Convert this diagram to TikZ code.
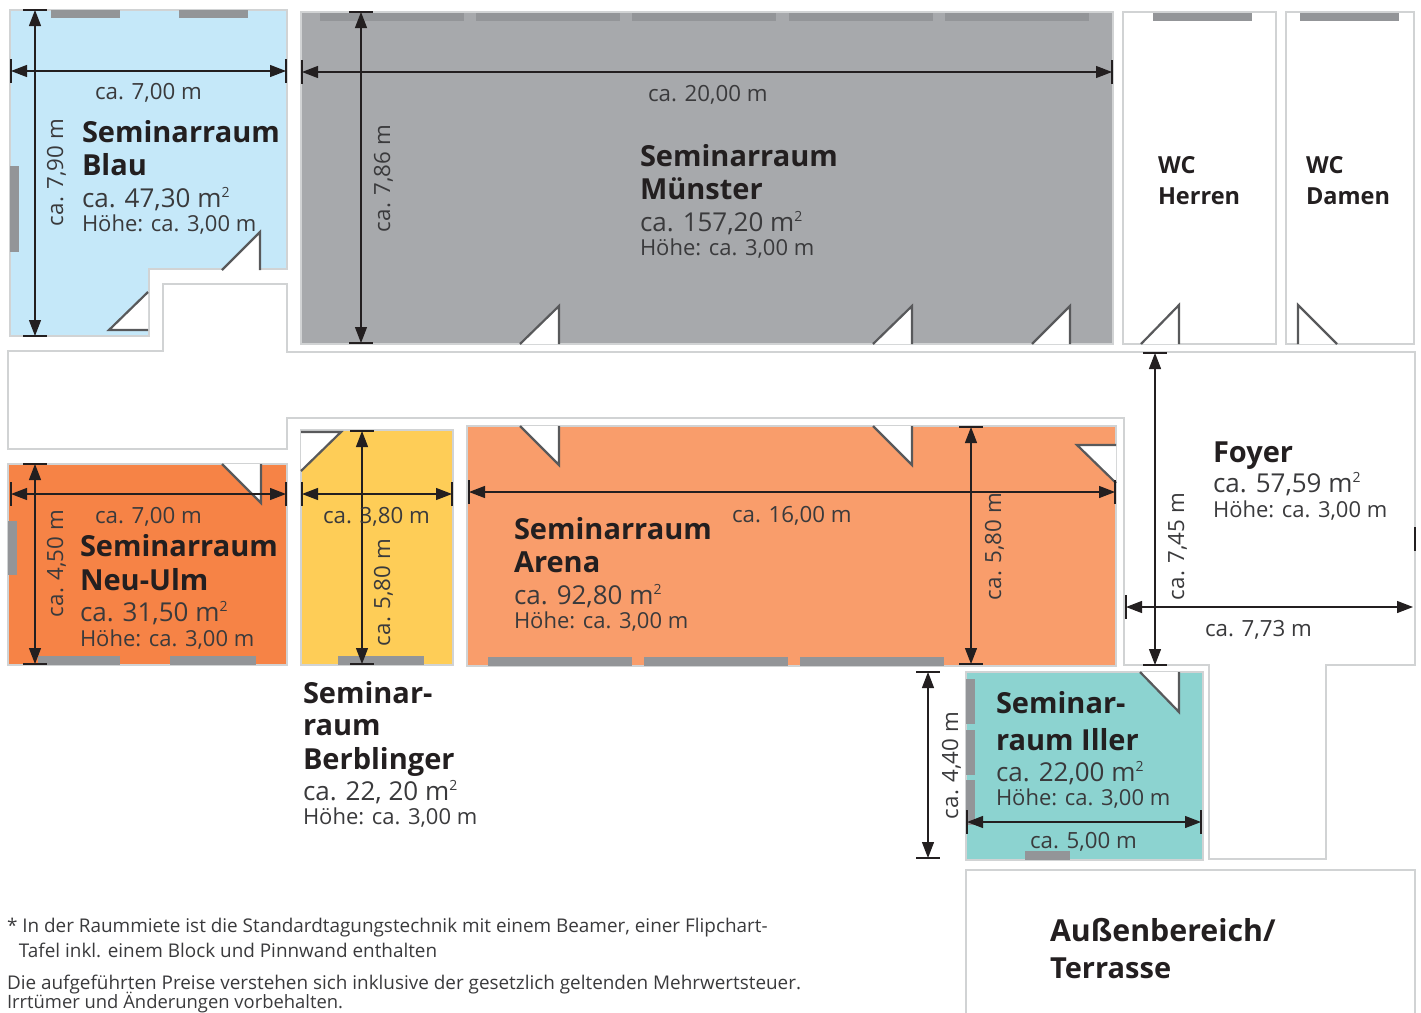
\documentclass[tikz,border=0pt]{standalone}
\usepackage{fontspec}
\setmainfont{Open Sans}
\usetikzlibrary{arrows.meta}
\definecolor{wallc}{HTML}{D1D3D4}
\definecolor{winc}{HTML}{939598}
\definecolor{doorc}{HTML}{58595B}
\definecolor{inkc}{HTML}{231F20}
\definecolor{txtc}{HTML}{3A3A3C}
\definecolor{blauc}{HTML}{C5E8F9}
\definecolor{muenc}{HTML}{A7A9AC}
\definecolor{neuc}{HTML}{F68346}
\definecolor{berbc}{HTML}{FECD57}
\definecolor{arenac}{HTML}{F99D6B}
\definecolor{illerc}{HTML}{8CD3D0}
\tikzset{
  wall/.style={draw=wallc,line width=2.6pt,line join=miter},
  windowbar/.style={fill=winc,draw=none},
  doorline/.style={draw=doorc,line width=2.2pt,line join=miter},
  dimline/.style={draw=inkc,line width=1.2pt,{Triangle[length=16pt,width=12pt]}-{Triangle[length=16pt,width=12pt]}},
  dimtick/.style={draw=inkc,line width=1.2pt},
  txt/.style={inner sep=0pt,outer sep=0pt,anchor=base west,text=txtc},
  ttl/.style={txt,text=inkc,font=\fontsize{29}{30}\selectfont\bfseries},
  wcttl/.style={txt,text=inkc,font=\fontsize{23.5}{25}\selectfont\bfseries},
  area/.style={txt,font=\fontsize{26}{26}\selectfont},
  hoehe/.style={txt,font=\fontsize{22}{22}\selectfont},
  dimtxt/.style={txt,font=\fontsize{22.3}{22}\selectfont},
  note/.style={txt,font=\fontsize{18.9}{19}\selectfont},
}
\newcommand{\sqm}{\raisebox{10pt}{\fontsize{14}{14}\selectfont 2}}
\newcommand{\winbar}[4]{\fill[windowbar] (#1,#2) rectangle (#3,#4);}
% hinge end, tip, third corner: hypotenuse (a)-(b), leg (b)-(c)
\newcommand{\doorleaf}[6]{\fill[white] (#1,#2) -- (#3,#4) -- (#5,#6) -- cycle;
  \draw[doorline] (#1,#2) -- (#3,#4) -- (#5,#6);}
\newcommand{\hdim}[4]{\coordinate (#1a) at (#2,#4); \coordinate (#1b) at (#3,#4);
  \draw[dimline] (#1a) -- (#1b);
  \draw[dimtick] ([yshift=12pt]#1a) -- ([yshift=-12pt]#1a);
  \draw[dimtick] ([yshift=12pt]#1b) -- ([yshift=-12pt]#1b);}
\newcommand{\vdim}[4]{\coordinate (#1a) at (#4,#2); \coordinate (#1b) at (#4,#3);
  \draw[dimline] (#1a) -- (#1b);
  \draw[dimtick] ([xshift=-12pt]#1a) -- ([xshift=12pt]#1a);
  \draw[dimtick] ([xshift=-12pt]#1b) -- ([xshift=12pt]#1b);}
\begin{document}
\begin{tikzpicture}[x=1pt,y=-1pt]
\useasboundingbox (0,0) rectangle (1421,1012);
% corridor / foyer
\draw[wall,fill=white] (8,351) -- (163,351) -- (163,284) -- (287,284) -- (287,352) -- (1415,352) -- (1415,665) -- (1326,665) -- (1326,859) -- (1209,859) -- (1209,665) -- (1124,665) -- (1124,418) -- (287,418) -- (287,449) -- (8,449) -- cycle;
% outdoor
\draw[wall] (966,1014) -- (966,870) -- (1415,870) -- (1415,1014);
% rooms
\draw[wall,fill=blauc] (10,10) -- (287,10) -- (287,269) -- (149,269) -- (149,336) -- (10,336) -- cycle;
\draw[wall,fill=muenc] (301,12) rectangle (1113,344);
\draw[wall,fill=white] (1123,12) rectangle (1276,344);
\draw[wall,fill=white] (1286,12) rectangle (1414,344);
\draw[wall,fill=neuc] (8,464) rectangle (287,665);
\draw[wall,fill=berbc] (301,430) rectangle (453,665);
\draw[wall,fill=arenac] (467,426) rectangle (1116,666);
\draw[wall,fill=illerc] (966,672) rectangle (1203,860);
% windows
\winbar{51}{10}{120}{18}\winbar{179}{10}{248}{18}\winbar{10}{166}{19}{252}
\winbar{320}{13}{464}{21}\winbar{476}{13}{620}{21}\winbar{632}{13}{776}{21}\winbar{789}{13}{933}{21}\winbar{945}{13}{1089}{21}
\winbar{1153}{13}{1252}{21}\winbar{1300}{13}{1399}{21}
\winbar{8}{521}{17}{575}\winbar{38}{656}{120}{665}\winbar{170}{656}{256}{665}
\winbar{338}{656}{424}{665}
\winbar{488}{657}{632}{666}\winbar{644}{657}{788}{666}\winbar{800}{657}{944}{666}
\winbar{966}{679}{975}{724}\winbar{966}{730}{975}{775}\winbar{966}{780}{975}{825}\winbar{1025}{851}{1070}{860}
% doors
\doorleaf{222}{270}{260}{232}{260}{270}
\doorleaf{148}{292}{109}{330}{148}{330}
\doorleaf{520}{344}{559}{306}{559}{344}
\doorleaf{873}{344}{912}{306}{912}{344}
\doorleaf{1032}{344}{1070}{306}{1070}{344}
\doorleaf{1141}{344}{1179}{305}{1179}{344}
\doorleaf{1337}{344}{1298}{305}{1298}{344}
\doorleaf{222}{464}{261}{503}{261}{464}
\doorleaf{301}{471}{341}{432}{301}{432}
\doorleaf{520}{426}{559}{465}{559}{426}
\doorleaf{873}{426}{912}{465}{912}{426}
\doorleaf{1116}{483}{1077}{445}{1116}{445}
\doorleaf{1140}{672}{1179}{712}{1179}{672}
% dimensions
\hdim{bh}{11}{286}{71}\vdim{bv}{10}{336}{35}
\hdim{mh}{302}{1112}{72}\vdim{mv}{12}{343}{361}
\hdim{nh}{11}{286}{494}\vdim{nv}{464}{664}{35}
\hdim{gh}{302}{452}{494}\vdim{gv}{431}{664}{362}
\hdim{ah}{469}{1115}{492}\vdim{av}{427}{664}{971}
\vdim{fv}{353}{665}{1155}
\coordinate (fha) at (1126,607); \coordinate (fhb) at (1413,607);
\draw[dimline] (fha) -- (fhb);
\draw[dimtick] ([yshift=12pt]fha) -- ([yshift=-12pt]fha);
\coordinate (ftick) at (1415,539); \draw[dimtick] ([yshift=12pt]ftick) -- ([yshift=-12pt]ftick);
\vdim{iv}{672}{858}{928}\hdim{ih}{967}{1201}{822}
% dimension labels
\node[dimtxt] (t1) at (95,99) {ca. 7,00 m};
\node[dimtxt] (t2) at (648,101) {ca. 20,00 m};
\node[dimtxt] (t3) at (95,523) {ca. 7,00 m};
\node[dimtxt] (t4) at (323,523) {ca. 3,80 m};
\node[dimtxt] (t5) at (732,522) {ca. 16,00 m};
\node[dimtxt] (t6) at (1205,636) {ca. 7,73 m};
\node[dimtxt] (t7) at (1030,848) {ca. 5,00 m};
\node[dimtxt,rotate=90] (r1) at (63,226) {ca. 7,90 m};
\node[dimtxt,rotate=90] (r2) at (390,232) {ca. 7,86 m};
\node[dimtxt,rotate=90] (r3) at (63,617) {ca. 4,50 m};
\node[dimtxt,rotate=90] (r4) at (390,646) {ca. 5,80 m};
\node[dimtxt,rotate=90] (r5) at (1001,600) {ca. 5,80 m};
\node[dimtxt,rotate=90] (r6) at (1184,600) {ca. 7,45 m};
\node[dimtxt,rotate=90] (r7) at (958,819) {ca. 4,40 m};
% room labels
\node[ttl] (a1) at (82,142) {Seminarraum};
\node[ttl] (a2) at (82,175) {Blau};
\node[area] (a3) at (82,207) {ca. 47,30 m\sqm};
\node[hoehe] (a4) at (82,231) {Höhe: ca. 3,00 m};
\node[ttl] (b1) at (640,166) {Seminarraum};
\node[ttl] (b2) at (640,199) {Münster};
\node[area] (b3) at (640,231) {ca. 157,20 m\sqm};
\node[hoehe] (b4) at (640,255) {Höhe: ca. 3,00 m};
\node[wcttl] (c1) at (1158,173) {WC};
\node[wcttl] (c2) at (1158,204) {Herren};
\node[wcttl] (d1) at (1306,173) {WC};
\node[wcttl] (d2) at (1306,204) {Damen};
\node[ttl] (e1) at (1213,462) {Foyer};
\node[area] (e2) at (1213,492) {ca. 57,59 m\sqm};
\node[hoehe] (e3) at (1213,517) {Höhe: ca. 3,00 m};
\node[ttl] (f1) at (80,556) {Seminarraum};
\node[ttl] (f2) at (80,590) {Neu-Ulm};
\node[area] (f3) at (80,621) {ca. 31,50 m\sqm};
\node[hoehe] (f4) at (80,646) {Höhe: ca. 3,00 m};
\node[ttl] (g1) at (514,539) {Seminarraum};
\node[ttl] (g2) at (514,572) {Arena};
\node[area] (g3) at (514,604) {ca. 92,80 m\sqm};
\node[hoehe] (g4) at (514,628) {Höhe: ca. 3,00 m};
\node[ttl] (h1) at (303,703) {Seminar-};
\node[ttl] (h2) at (303,735) {raum};
\node[ttl] (h3) at (303,769) {Berblinger};
\node[area] (h4) at (303,800) {ca. 22, 20 m\sqm};
\node[hoehe] (h5) at (303,824) {Höhe: ca. 3,00 m};
\node[ttl] (i1) at (996,713) {Seminar-};
\node[ttl] (i2) at (996,750) {raum Iller};
\node[area] (i3) at (996,781) {ca. 22,00 m\sqm};
\node[hoehe] (i4) at (996,805) {Höhe: ca. 3,00 m};
\node[ttl,font=\fontsize{30.3}{30}\selectfont\bfseries] (j1) at (1050,941) {Außenbereich/};
\node[ttl] (j2) at (1050,978) {Terrasse};
% footnotes
\node[note] (n1) at (7,932) {* In der Raummiete ist die Standardtagungstechnik mit einem Beamer, einer Flipchart-};
\node[note] (n2) at (19,957) {Tafel inkl. einem Block und Pinnwand enthalten};
\node[note] (n3) at (7,989) {Die aufgeführten Preise verstehen sich inklusive der gesetzlich geltenden Mehrwertsteuer.};
\node[note,font=\fontsize{18.4}{19}\selectfont] (n4) at (7,1008.5) {Irrtümer und Änderungen vorbehalten.};
\end{tikzpicture}
\end{document}
